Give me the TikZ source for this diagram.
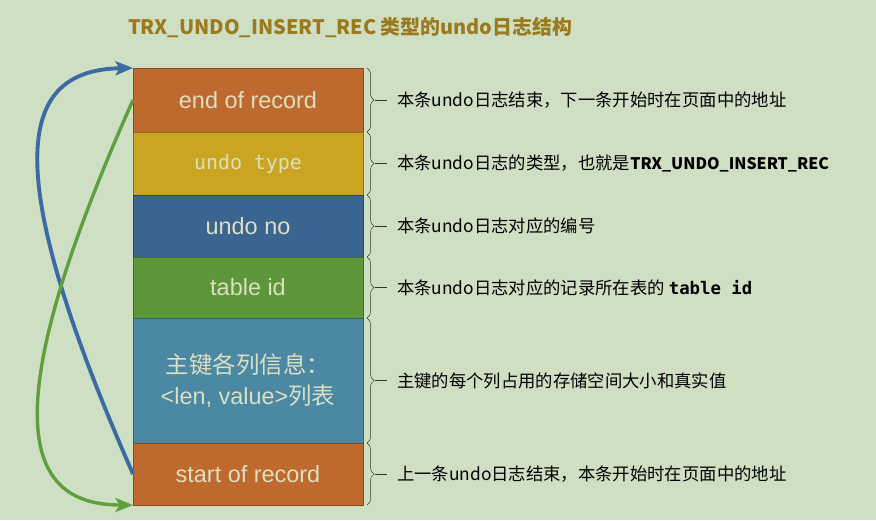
\documentclass[tikz,border=0pt]{standalone}
\usepackage{fontspec}
\setmainfont{Liberation Sans}
\setmonofont{DejaVu Sans Mono}
\newfontfamily\cjk{Noto Sans CJK SC}
\usepackage{xcolor}
\usepackage{tikz}
\usetikzlibrary{calc,arrows.meta,decorations.pathreplacing,positioning}

\definecolor{bgGreen}{HTML}{CFDFC4}
\definecolor{recOrange}{HTML}{BE6A2E}
\definecolor{typeYellow}{HTML}{C9A522}
\definecolor{noBlue}{HTML}{3A6591}
\definecolor{idGreen}{HTML}{5E963A}
\definecolor{keyTeal}{HTML}{4A88A3}
\definecolor{boxText}{HTML}{DCDFC2}
\definecolor{titleGold}{HTML}{9B7A1D}
\definecolor{arrowBlue}{HTML}{3C6BA3}
\definecolor{arrowGreen}{HTML}{5FA03C}

\begin{document}
\begin{tikzpicture}[x=0.03cm, y=-0.03cm,
    field/.style={draw=#1!70!black, line width=0.8pt, fill=#1, text=boxText,
        minimum width=6.9cm, outer sep=0pt, inner sep=0pt,
        font=\fontsize{20}{24}\selectfont},
    brace/.style={decorate, decoration={brace, amplitude=6pt}, thin, black!80},
    note/.style={anchor=west, inner sep=8.5pt, font=\cjk\fontsize{14.8}{17}\selectfont},
    link/.style={line width=3.3pt, -{Stealth[length=15pt, width=12pt, inset=3.5pt]}}
]

% Background
\fill[bgGreen] (0,0) rectangle (876,520);
\useasboundingbox (0,0) rectangle (876,520);

% Title
\node[anchor=west, text=titleGold, font=\cjk\bfseries\fontsize{17}{20}\selectfont] (title) at (124,28)
    {TRX\_UNDO\_INSERT\_REC 类型的undo日志结构};

% Record fields, stacked from top to bottom
\node[field=recOrange, minimum height=1.92cm, anchor=north west] (end) at (133,68) {end of record};
\node[field=typeYellow, minimum height=1.89cm, below=0pt of end] (type) {\ttfamily\fontsize{17}{22}\selectfont undo type};
\node[field=noBlue, minimum height=1.86cm, below=0pt of type] (no) {undo no};
\node[field=idGreen, minimum height=1.83cm, below=0pt of no] (id) {table id};
\node[field=keyTeal, minimum height=3.75cm, below=0pt of id, align=center] (key)
    {{\cjk 主键各列信息：}\\[2pt]<len, value>{\cjk 列表}};
\node[field=recOrange, minimum height=1.86cm, below=0pt of key] (start) {start of record};

% Braces and notes on the right
\foreach \f/\txt in {
    end/{本条undo日志结束，下一条开始时在页面中的地址},
    type/{本条undo日志的类型，也就是{\bfseries\fontsize{13.6}{17}\selectfont TRX\_UNDO\_INSERT\_REC}},
    no/{本条undo日志对应的编号},
    id/{本条undo日志对应的记录所在表的 {\ttfamily\bfseries table id}},
    key/{主键的每个列占用的存储空间大小和真实值},
    start/{上一条undo日志结束，本条开始时在页面中的地址}} {
    \draw[brace] ($(\f.north east)+(4,0)$) -- ($(\f.south east)+(4,0)$);
    \node[note] (note-\f) at ($(\f.east)+(24,0)$) {\txt};
    \draw[thin, black!80] ($(\f.east)+(12,0)$) -- (note-\f.west);
}

% Pointers between start and end of the record
\draw[link, arrowBlue] (start.west) .. controls (-5,160) and (20,70) .. (end.north west);
\draw[link, arrowGreen, line width=2.9pt] (end.west) .. controls (-5,410) and (20,505) .. (start.south west);

\end{tikzpicture}
\end{document}
